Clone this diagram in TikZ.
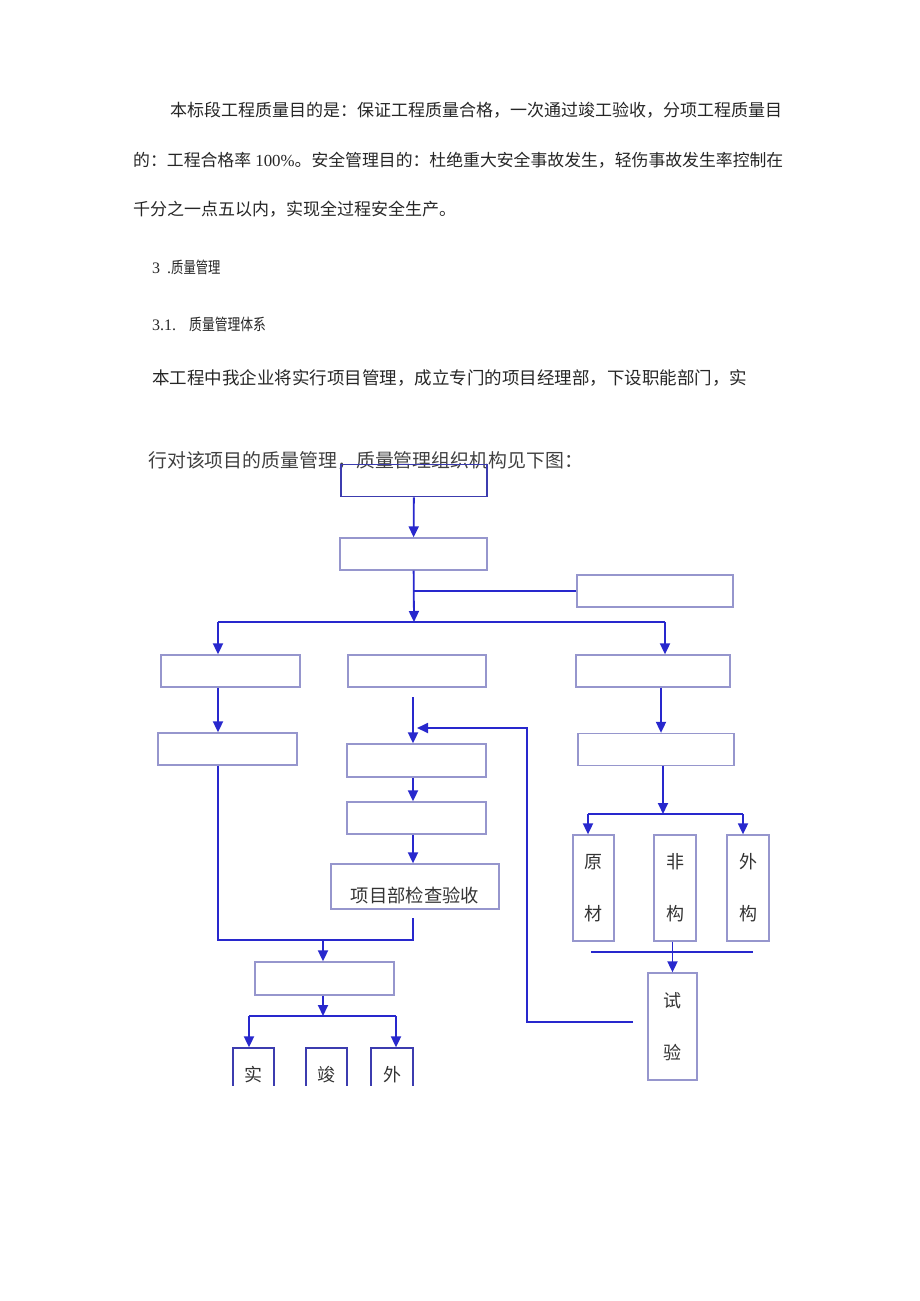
\documentclass[tikz,border=0pt]{standalone}
\usepackage{fontspec}
\setmainfont{Noto Sans CJK SC}
\newfontfamily\latin{Liberation Serif}
\usetikzlibrary{arrows.meta}
\definecolor{lineblue}{RGB}{40,40,205}
\definecolor{boxgray}{RGB}{150,150,205}
\definecolor{boxdark}{RGB}{60,60,175}

\begin{document}
\begin{tikzpicture}[x=1pt, y=-1pt,
	para/.style = {anchor=west, inner sep=0, font=\fontsize{17}{20}\selectfont, text=black!85},
	box/.style = {draw=boxgray, line width=1.3pt, inner sep=0, minimum height=32pt},
	topbox/.style = {box, draw=boxdark, line width=1.8pt},
	vbox/.style = {box, minimum width=42pt, minimum height=106pt, align=center, font=\fontsize{18}{52}\selectfont, text=black!80},
	link/.style = {draw=lineblue, line width=1.8pt},
	arr/.style = {link, -{Triangle[length=11pt, width=10pt]}}]
	\useasboundingbox (0,0) rectangle (920,1301);
	% text above the chart
	\node[para] (p1) at (170,110) {本标段工程质量目的是：保证工程质量合格，一次通过竣工验收，分项工程质量目};
	\node[para, font=\fontsize{16.85}{20}\selectfont] (p2) at (133,160) {的：工程合格率{\latin\ 100\%}。安全管理目的：杜绝重大安全事故发生，轻伤事故发生率控制在};
	\node[para] (p3) at (133,209) {千分之一点五以内，实现全过程安全生产。};
	\node[para, font=\fontsize{16}{18}\selectfont] (h1) at (152,267) {{\latin 3\hspace{7pt}.}\scalebox{0.77}[1]{质量管理}};
	\node[para, font=\fontsize{16}{18}\selectfont] (h2) at (152,324) {{\latin 3.1.}\hspace{13pt}\scalebox{0.8}[1]{质量管理体系}};
	\node[para, font=\fontsize{17.5}{20}\selectfont] (p4) at (152,378) {本工程中我企业将实行项目管理，成立专门的项目经理部，下设职能部门，实};
	\node[para, font=\fontsize{18.9}{20}\selectfont, text=black!75] (p5) at (148,461) {行对该项目的质量管理，质量管理组织机构见下图：};
	% boxes
	\node[topbox, minimum width=146pt] (top) at (414,480.5) {};
	\node[box, minimum width=147pt] (pm) at (413.5,554) {};
	\node[box, minimum width=156pt] (side) at (655,591) {};
	\node[box, minimum width=139pt] (L1) at (230.5,671) {};
	\node[box, minimum width=138pt] (M1) at (417,671) {};
	\node[box, minimum width=154pt] (R1) at (653,671) {};
	\node[box, minimum width=139pt] (L2) at (227.5,749) {};
	\node[box, minimum width=139pt, minimum height=33pt] (M2) at (416.5,760.5) {};
	\node[box, minimum width=156pt] (R2) at (656,749.5) {};
	\node[box, minimum width=139pt] (M3) at (416.5,818) {};
	\node[box, minimum width=168pt, minimum height=45pt] (M4) at (415,886.5) {};
	\node[font=\fontsize{18.3}{20}\selectfont, text=black!80] (M4t) at ([yshift=-9pt]M4.center) {项目部检查验收};
	\node[vbox, minimum width=41pt] (raw) at (593.5,888) {原\\材};
	\node[vbox] (nonst) at (675,888) {非\\构};
	\node[vbox] (outst) at (748,888) {外\\构};
	\node[vbox, minimum width=49pt, minimum height=107pt] (test) at (672.5,1026.5) {试\\验};
	\node[box, minimum width=139pt, minimum height=33pt] (insp) at (324.5,978.5) {};
	\begin{scope}
		\clip (0,0) rectangle (920,1085);
		\node[vbox, draw=boxdark, minimum width=41pt] (k1) at (253.5,1101) {实\\\phantom{实}};
		\node[vbox, draw=boxdark, minimum width=41pt] (k2) at (326.5,1101) {竣\\\phantom{竣}};
		\node[vbox, draw=boxdark] (k3) at (392,1101) {外\\\phantom{外}};
	\end{scope}
	% junction points
	\coordinate (split) at (414,622);
	\coordinate (splitL) at (218,622);
	\coordinate (splitR) at (665,622);
	\coordinate (m1out) at (413,697);
	\coordinate (m4out) at (413,918);
	\coordinate (joinL) at (218,940);
	\coordinate (joinR) at (413,940);
	\coordinate (joinM) at (323,940);
	\coordinate (spread) at (323,1016);
	\coordinate (spreadL) at (249,1016);
	\coordinate (spreadR) at (396,1016);
	\coordinate (mat) at (663,814);
	\coordinate (matL) at (588,814);
	\coordinate (matR) at (743,814);
	\coordinate (barL) at (591,952);
	\coordinate (barR) at (753,952);
	\coordinate (fb) at (633,1022);
	\coordinate (fbTurn) at (527,728);
	\coordinate (fbEnd) at (417,728);
	% connectors
	\draw[arr] (top) -- (pm);
	\draw[arr] (pm) -- (split);
	\draw[link] (pm.south |- side.west) -- (side.west);
	\draw[link] (splitL) -- (splitR);
	\draw[arr] (splitL) -- (splitL |- L1.north);
	\draw[arr] (splitR) -- (splitR |- R1.north);
	\draw[arr] (L1.south -| splitL) -- (L2.north -| splitL);
	\draw[arr] (m1out) -- (m1out |- M2.north);
	\draw[arr] (M2.south -| m1out) -- (M3.north -| m1out);
	\draw[arr] (M3.south -| m1out) -- (M4.north -| m1out);
	\draw[link] (L2.south -| joinL) -- (joinL) -- (joinR) -- (m4out);
	\draw[arr] (joinM) -- (insp.north -| joinM);
	\draw[arr] (insp.south -| spread) -- (spread);
	\draw[link] (spreadL) -- (spreadR);
	\draw[arr] (spreadL) -- (spreadL |- k1.north);
	\draw[arr] (spreadR) -- (spreadR |- k3.north);
	\draw[arr] (R1.south -| 661,0) -- (R2.north -| 661,0);
	\draw[arr] (R2.south -| mat) -- (mat);
	\draw[link] (matL) -- (matR);
	\draw[arr] (matL) -- (matL |- raw.north);
	\draw[arr] (matR) -- (matR |- outst.north);
	\draw[link] (barL) -- (barR);
	\draw[arr] (test.north |- nonst.south) -- (test.north);
	\draw[arr] (fb) -- (fb -| fbTurn) -- (fbTurn) -- (fbEnd);
\end{tikzpicture}
\end{document}
